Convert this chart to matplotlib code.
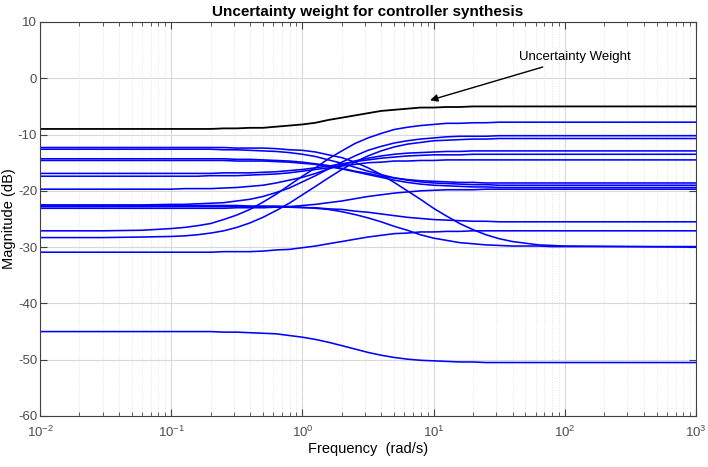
# bode magnitude plot of the plant set and the uncertainty weight
import matplotlib
matplotlib.use("Agg")
import matplotlib.pyplot as plt
from matplotlib.ticker import LogLocator, NullFormatter


frequency = [0.01, 0.03, 0.06,
             0.1, 0.126, 0.158, 0.2, 0.251, 0.316, 0.398, 0.501, 0.631, 0.794,
             1, 1.26, 1.58, 2, 2.51, 3.16, 3.98, 5.01, 6.31, 7.94,
             10, 12.6, 15.8, 20, 25.1, 31.6, 39.8, 50.1, 63.1, 79.4,
             100, 1000]

# uncertainty weight magnitude (dB)
weight = [-9.0, -9.0, -9.0,
          -9.0, -9.0, -9.0, -9.0, -8.9, -8.9, -8.8, -8.8, -8.6, -8.4,
          -8.2, -7.9, -7.4, -7.0, -6.6, -6.2, -5.8, -5.6, -5.4, -5.2,
          -5.2, -5.1, -5.1, -5.0, -5.0, -5.0, -5.0, -5.0, -5.0, -5.0,
          -5.0, -5.0]

# relative errors of the plant set (dB), one list per model
error1 = [-12.3, -12.3, -12.3,
          -12.3, -12.3, -12.3, -12.3, -12.3, -12.4, -12.4, -12.4, -12.5, -12.7,
          -12.8, -13.1, -13.6, -14.1, -14.9, -15.9, -17.1, -18.5, -20.0, -21.5,
          -23.1, -24.5, -25.8, -26.9, -27.8, -28.5, -29.0, -29.3, -29.6, -29.7,
          -29.8, -30.0]
error2 = [-12.6, -12.6, -12.6,
          -12.6, -12.6, -12.6, -12.6, -12.7, -12.7, -12.8, -12.9, -13.0, -13.2,
          -13.5, -13.9, -14.5, -15.1, -15.8, -16.5, -17.1, -17.7, -18.1, -18.4,
          -18.6, -18.7, -18.8, -18.9, -18.9, -19.0, -19.0, -19.0, -19.0, -19.0,
          -19.0, -19.0]
error3 = [-14.3, -14.3, -14.3,
          -14.3, -14.3, -14.3, -14.3, -14.3, -14.4, -14.4, -14.5, -14.6, -14.7,
          -14.9, -15.2, -15.5, -16.0, -16.5, -16.9, -17.4, -17.7, -18.0, -18.2,
          -18.3, -18.4, -18.5, -18.5, -18.6, -18.6, -18.6, -18.6, -18.6, -18.6,
          -18.6, -18.6]
error4 = [-14.6, -14.6, -14.6,
          -14.6, -14.6, -14.6, -14.6, -14.6, -14.7, -14.7, -14.7, -14.8, -14.9,
          -15.1, -15.3, -15.7, -16.1, -16.6, -17.1, -17.6, -18.1, -18.5, -18.8,
          -19.0, -19.1, -19.2, -19.3, -19.3, -19.4, -19.4, -19.4, -19.4, -19.4,
          -19.4, -19.4]
error5 = [-16.9, -16.9, -16.9,
          -16.9, -16.9, -16.9, -16.9, -16.8, -16.8, -16.8, -16.7, -16.6, -16.4,
          -16.2, -15.9, -15.6, -15.2, -14.8, -14.5, -14.2, -14.0, -13.8, -13.7,
          -13.6, -13.6, -13.6, -13.5, -13.5, -13.5, -13.5, -13.5, -13.5, -13.5,
          -13.5, -13.5]
error6 = [-17.4, -17.4, -17.4,
          -17.4, -17.4, -17.4, -17.3, -17.3, -17.3, -17.2, -17.1, -17.0, -16.8,
          -16.5, -16.2, -15.9, -15.6, -15.3, -15.0, -14.9, -14.7, -14.7, -14.6,
          -14.6, -14.5, -14.5, -14.5, -14.5, -14.5, -14.5, -14.5, -14.5, -14.5,
          -14.5, -14.5]
error7 = [-19.7, -19.7, -19.7,
          -19.7, -19.6, -19.6, -19.6, -19.5, -19.4, -19.2, -19.0, -18.6, -18.1,
          -17.6, -16.9, -16.1, -15.4, -14.7, -14.2, -13.8, -13.5, -13.3, -13.2,
          -13.1, -13.0, -13.0, -12.9, -12.9, -12.9, -12.9, -12.9, -12.9, -12.9,
          -12.9, -12.9]
error8 = [-22.5, -22.5, -22.5,
          -22.4, -22.4, -22.3, -22.2, -22.1, -21.8, -21.5, -21.0, -20.3, -19.5,
          -18.4, -17.3, -16.1, -14.9, -13.8, -12.8, -12.1, -11.5, -11.1, -10.8,
          -10.6, -10.4, -10.3, -10.3, -10.3, -10.2, -10.2, -10.2, -10.2, -10.2,
          -10.2, -10.2]
error9 = [-22.8, -22.8, -22.8,
          -22.8, -22.8, -22.8, -22.8, -22.8, -22.8, -22.8, -22.8, -22.9, -22.9,
          -23.0, -23.0, -23.2, -23.3, -23.6, -23.8, -24.1, -24.4, -24.7, -24.9,
          -25.1, -25.2, -25.3, -25.4, -25.4, -25.5, -25.5, -25.5, -25.5, -25.5,
          -25.5, -25.5]
error10 = [-23.1, -23.1, -23.1,
           -23.1, -23.1, -23.1, -23.1, -23.1, -23.0, -23.0, -23.0, -22.9, -22.8,
           -22.6, -22.4, -22.1, -21.8, -21.4, -21.0, -20.7, -20.4, -20.2, -20.0,
           -19.9, -19.8, -19.8, -19.8, -19.7, -19.7, -19.7, -19.7, -19.7, -19.7,
           -19.7, -19.7]
error11 = [-22.6, -22.6, -22.6,
           -22.6, -22.6, -22.6, -22.6, -22.6, -22.6, -22.7, -22.7, -22.7, -22.8,
           -22.9, -23.1, -23.3, -23.7, -24.2, -24.8, -25.5, -26.3, -27.0, -27.8,
           -28.4, -28.8, -29.2, -29.4, -29.6, -29.7, -29.8, -29.8, -29.8, -29.9,
           -29.9, -29.9]
error12 = [-27.1, -27.1, -27.0,
           -26.7, -26.5, -26.2, -25.8, -25.1, -24.3, -23.3, -22.0, -20.6, -19.0,
           -17.4, -15.9, -14.3, -12.9, -11.6, -10.6, -9.8, -9.1, -8.7, -8.4,
           -8.2, -8.0, -8.0, -7.9, -7.9, -7.8, -7.8, -7.8, -7.8, -7.8,
           -7.8, -7.8]
error13 = [-28.3, -28.3, -28.2,
           -28.1, -28.0, -27.8, -27.5, -27.1, -26.5, -25.7, -24.7, -23.5, -22.2,
           -20.7, -19.2, -17.7, -16.2, -14.9, -13.8, -12.9, -12.2, -11.7, -11.4,
           -11.1, -11.0, -10.9, -10.8, -10.8, -10.7, -10.7, -10.7, -10.7, -10.7,
           -10.7, -10.7]
error14 = [-30.9, -30.9, -30.9,
           -30.9, -30.9, -30.9, -30.9, -30.8, -30.8, -30.8, -30.7, -30.5, -30.4,
           -30.1, -29.8, -29.4, -29.0, -28.6, -28.2, -27.9, -27.6, -27.5, -27.3,
           -27.3, -27.2, -27.2, -27.1, -27.1, -27.1, -27.1, -27.1, -27.1, -27.1,
           -27.1, -27.1]
error15 = [-45.0, -45.0, -45.0,
           -45.0, -45.0, -45.0, -45.0, -45.1, -45.1, -45.2, -45.3, -45.4, -45.7,
           -46.0, -46.4, -46.9, -47.5, -48.1, -48.7, -49.2, -49.6, -49.9, -50.1,
           -50.2, -50.3, -50.4, -50.4, -50.5, -50.5, -50.5, -50.5, -50.5, -50.5,
           -50.5, -50.5]

errors = [error1, error2, error3, error4, error5, error6, error7, error8,
          error9, error10, error11, error12, error13, error14, error15]


def main():
    plt.rcParams["font.family"] = ["Liberation Sans", "DejaVu Sans"]
    plt.rcParams["mathtext.fontset"] = "custom"
    plt.rcParams["mathtext.rm"] = "Liberation Sans"
    plt.rcParams["axes.unicode_minus"] = False

    fig = plt.figure(figsize=(7.08, 4.67), dpi=100)
    ax = fig.add_axes([40 / 708, 1 - 416 / 467, 656 / 708, 394 / 467])

    # the plant errors in blue, the weight on top in black
    for e in errors:
        ax.semilogx(frequency, e, color="#0000ff", lw=1.15)
    ax.semilogx(frequency, weight, color="black", lw=1.3)

    ax.set_xlim(1e-2, 1e3)
    ax.set_ylim(-60, 10)
    ax.set_yticks(range(-60, 11, 10))
    ax.xaxis.set_major_locator(LogLocator(base=10, numticks=10))
    ax.xaxis.set_minor_locator(LogLocator(base=10, subs=range(2, 10), numticks=100))
    ax.xaxis.set_minor_formatter(NullFormatter())

    # matlab style grid and ticks
    ax.grid(True, which="major", color="#d9d9d9", lw=0.8)
    ax.grid(True, which="minor", axis="x", color="#e3e3e3", lw=0.7, ls=":")
    ax.set_axisbelow(True)
    ax.tick_params(which="both", direction="in", top=True, right=True,
                   colors="#404040", labelsize=9.5, labelcolor="#4d4d4d")
    ax.tick_params(which="major", length=5)
    ax.tick_params(which="minor", length=3)
    ax.tick_params(axis="x", pad=6)
    ax.tick_params(axis="y", pad=2)
    for s in ax.spines.values():
        s.set_color("#404040")
        s.set_linewidth(0.8)

    ax.set_title("Uncertainty weight for controller synthesis", fontsize=11,
                 fontweight="bold", pad=4)
    ax.set_xlabel("Frequency  (rad/s)", fontsize=10.5, labelpad=2)
    ax.set_ylabel("Magnitude (dB)", fontsize=10.5)
    ax.yaxis.set_label_coords(-24 / 656, 0.5)

    ax.annotate("Uncertainty Weight", xy=(9.4, -3.9), xytext=(45, 3.7),
                fontsize=9.5, va="center", ha="left",
                arrowprops=dict(arrowstyle="-|>", color="black", lw=1.0,
                                mutation_scale=11, shrinkA=2, shrinkB=0))

    fig.savefig("out.png")


if __name__ == "__main__":
    main()
